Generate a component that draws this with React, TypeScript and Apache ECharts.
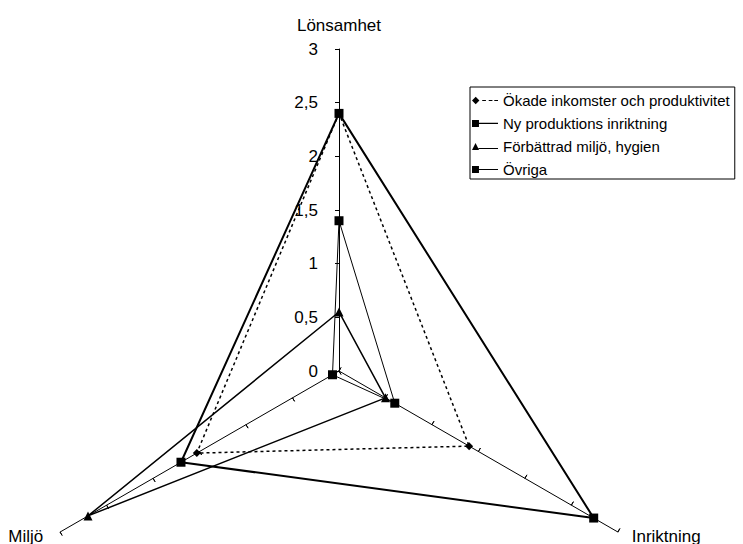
import React, { useEffect, useRef } from "react";
import * as echarts from "echarts";

const axes = ["Lönsamhet", "Miljö", "Inriktning"];
const axisMax = 3;
const seriesNames = [
  "Ökade inkomster och produktivitet",
  "Ny produktions inriktning",
  "Förbättrad miljö, hygien",
  "Övriga",
];
// values in order: Lönsamhet, Miljö, Inriktning
const okade = [2.4, 1.53, 1.4];
const nyProd = [2.4, 1.7, 2.74];
const forbattrad = [0.55, 2.7, 0.5];
const ovriga = [1.4, 0.07, 0.6];

const FONT = "'Liberation Sans', Arial, sans-serif";

export default function App() {
  const ref = useRef<HTMLDivElement>(null);
  useEffect(() => {
    if (!ref.current) return;
    const chart = echarts.init(ref.current, undefined, { renderer: "svg" });
    const center = [339, 371];
    const radius = 322;
    const baseRadar = {
      center,
      radius,
      startAngle: 90,
      splitNumber: 6,
      shape: "polygon",
      splitLine: { show: false },
      splitArea: { show: false },
    };
    const nameKeys = ["t", "m", "b"];
    const icons = [
      "path://M0,4L4,0L8,4L4,8Z M11,3.4h4v1.2h-4Z M18,3.4h4v1.2h-4Z M24,3.4h4v1.2h-4Z",
      "path://M0,0.5h7.5v7.5h-7.5Z M7,3.5h21v1.4h-21Z",
      "path://M0,7.8L3.8,0.3L7.6,7.8Z M7,5.6h21v1.2h-21Z",
      "path://M0,0.5h7.5v7.5h-7.5Z M7,3.7h21v1h-21Z",
    ];
    const symbols = ["diamond", "rect", "triangle", "rect"];
    const sizes = [8, 9, 9, 9];
    const widths = [1.5, 2, 1.5, 1];
    const types: any[] = [[3, 3], "solid", "solid", "solid"];
    const values = [okade, nyProd, forbattrad, ovriga];
    chart.setOption({
      animation: false,
      legend: {
        orient: "vertical",
        left: 470,
        top: 87,
        align: "left",
        padding: [5, 5, 1, 2],
        itemWidth: 26,
        itemHeight: 9,
        itemGap: 6,
        borderColor: "#000",
        borderWidth: 1,
        borderRadius: 0,
        selectedMode: false,
        textStyle: { color: "#000", fontSize: 15, fontFamily: FONT, lineHeight: 17 },
        data: seriesNames.map((n, i) => ({
          name: n,
          icon: icons[i],
          itemStyle: { color: "#000", borderWidth: 0 },
        })),
      },
      radar: [
        {
          ...baseRadar,
          indicator: axes.map((name, i) => ({
            name,
            min: 0,
            max: axisMax,
            axisLabel:
              i === 0
                ? {
                    show: true,
                    color: "#000",
                    fontSize: 17,
                    fontFamily: FONT,
                    margin: 21,
                    formatter: (v: number) => String(v).replace(".", ","),
                  }
                : { show: false },
          })),
          axisName: {
            color: "#000",
            fontSize: 17,
            fontFamily: FONT,
            formatter: (name: string) => {
              const k = nameKeys[axes.indexOf(name)] || "t";
              return `{${k}|${name}}`;
            },
            rich: {
              t: { color: "#000", fontSize: 17, fontFamily: FONT, lineHeight: 16 },
              m: { color: "#000", fontSize: 17, fontFamily: FONT, padding: [0, 3, 8, 0] },
              b: { color: "#000", fontSize: 17, fontFamily: FONT, padding: [0, 0, 8, 0] },
            },
          },
          nameGap: 16,
          axisLine: { show: true, lineStyle: { color: "#000", width: 1 } },
          axisTick: { show: true, length: 4, lineStyle: { color: "#000", width: 1 } },
          axisLabel: { show: false },
        },
        {
          ...baseRadar,
          indicator: axes.map((name) => ({ name, min: 0, max: axisMax })),
          axisName: { show: false },
          axisLine: { show: false },
          axisTick: { show: true, inside: true, length: 4, lineStyle: { color: "#000", width: 1 } },
          axisLabel: { show: false },
        },
      ],
      series: seriesNames.map((name, i) => ({
        type: "radar",
        radarIndex: 0,
        name,
        symbol: symbols[i],
        symbolSize: sizes[i],
        color: "#000",
        itemStyle: { color: "#000" },
        lineStyle: { color: "#000", width: widths[i], type: types[i] },
        data: [{ value: values[i], name }],
      })),
    });
    return () => chart.dispose();
  }, []);
  return (
    <div
      ref={ref}
      style={{ position: "fixed", left: 0, top: 0, width: 743, height: 544, background: "#fff" }}
    />
  );
}
